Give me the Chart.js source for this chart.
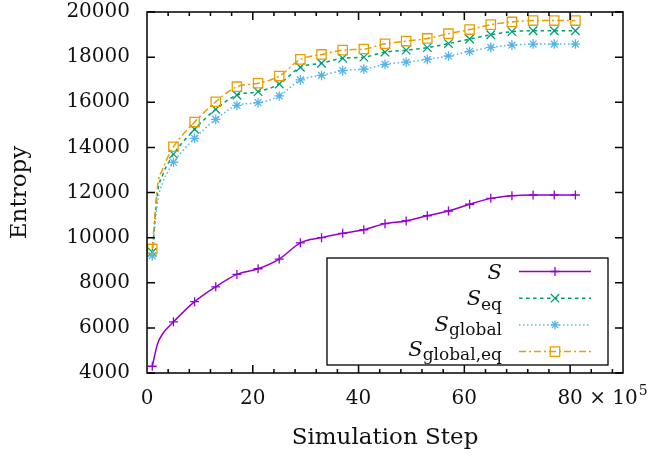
<!DOCTYPE html>
<html>
<head>
<meta charset="utf-8">
<script src="https://cdn.jsdelivr.net/npm/chart.js@4.4.0/dist/chart.umd.min.js"></script>
<style>
  html, body { margin: 0; padding: 0; background: #fff; }
  #wrap { width: 657px; height: 457px; }
</style>
</head>
<body>
<div id="wrap"><canvas id="entropyChart" width="657" height="457"></canvas></div>
<script>
// simulation step (x 10^5); markers only every 4th step starting at 1
const steps = [1, 2, 3, 4, 5, 9, 13, 17, 21, 25, 29, 33, 37, 41, 45, 49, 53, 57, 61, 65, 69, 73, 77, 81]

const sValues = [4300, 5300, 5750, 6030, 6270, 7160, 7820, 8370, 8620, 9050, 9770, 10000,
  10190, 10350, 10620, 10740, 10970, 11180, 11480, 11740, 11860, 11890, 11890, 11890]
const sEqValues = [9350, 12000, 12800, 13300, 13700, 14800, 15690, 16320, 16470, 16810, 17550, 17730,
  17950, 18000, 18220, 18310, 18420, 18600, 18800, 18990, 19130, 19170, 19170, 19170]
const sGlobalValues = [9200, 11600, 12450, 12950, 13340, 14400, 15240, 15860, 15980, 16280, 16990, 17190,
  17400, 17470, 17680, 17780, 17900, 18050, 18250, 18430, 18530, 18580, 18580, 18580]
const sGlobalEqValues = [9500, 12300, 13050, 13600, 14030, 15120, 16020, 16690, 16840, 17160, 17900, 18120,
  18310, 18360, 18590, 18710, 18830, 19040, 19220, 19440, 19560, 19620, 19620, 19620]

const xTickLabels = ['0', '20', '40', '60', '80']
const yTicks = [4000, 6000, 8000, 10000, 12000, 14000, 16000, 18000, 20000]

const FONT = '"DejaVu Serif", serif'
const TEXT = '#111'
const X_PAD = 14

function toPoints(vals) {
  return steps.map((s, i) => ({ x: s, y: vals[i] }))
}

const isMarker = (x) => (x - 1) % 4 === 0

// legend/series description (style only)
const series = [
  { sub: '',          data: sValues,         color: '#9400d3', dash: [],           marker: 'plus',   lift: 7.5 },
  { sub: 'eq',        data: sEqValues,       color: '#009e73', dash: [3.5, 3.5],   marker: 'x',      lift: 7 },
  { sub: 'global',    data: sGlobalValues,   color: '#56b4e9', dash: [1.5, 2.5],   marker: 'star',   lift: 6 },
  { sub: 'global,eq', data: sGlobalEqValues, color: '#e69f00', dash: [7, 3, 2, 3], marker: 'square', lift: 4 }
]

const chartStyle = { plus: 'cross', x: 'crossRot', star: 'star', square: 'rect' }
const chartRadius = { plus: 4.5, x: 6, star: 4.8, square: 6.6 }

function drawMarker(ctx, kind, x, y, color) {
  ctx.save()
  ctx.strokeStyle = color
  ctx.lineWidth = 1.3
  ctx.setLineDash([])
  ctx.beginPath()
  const r = 4.5
  if (kind === 'plus' || kind === 'star') {
    ctx.moveTo(x - r, y); ctx.lineTo(x + r, y)
    ctx.moveTo(x, y - r); ctx.lineTo(x, y + r)
  }
  if (kind === 'x' || kind === 'star') {
    const d = kind === 'x' ? 4.2 : 3.2
    ctx.moveTo(x - d, y - d); ctx.lineTo(x + d, y + d)
    ctx.moveTo(x - d, y + d); ctx.lineTo(x + d, y - d)
  }
  if (kind === 'square') {
    ctx.rect(x - 4.7, y - 4.7, 9.4, 9.4)
  }
  ctx.stroke()
  ctx.restore()
}

const framePlugin = {
  id: 'gnuplotFrame',
  afterDatasetsDraw(chart) {
    const ctx = chart.ctx
    const { left, right, top, bottom } = chart.chartArea
    const xs = chart.scales.x
    const ys = chart.scales.y

    ctx.save()
    ctx.strokeStyle = '#000'
    ctx.lineWidth = 1.5
    ctx.setLineDash([])

    // ticks, mirrored on all four sides
    ctx.beginPath()
    for (let v = 4; v < 90; v += 4) {
      const px = xs.getPixelForValue(v)
      const len = v % 20 === 0 ? 8 : 4
      ctx.moveTo(px, bottom); ctx.lineTo(px, bottom - len)
      ctx.moveTo(px, top); ctx.lineTo(px, top + len)
    }
    yTicks.forEach(v => {
      const py = ys.getPixelForValue(v)
      ctx.moveTo(left, py); ctx.lineTo(left + 8, py)
      ctx.moveTo(right, py); ctx.lineTo(right - 8, py)
    })
    ctx.stroke()

    // border
    ctx.strokeRect(left, top, right - left, bottom - top)

    // "x 10^5" after the last tick label
    ctx.fillStyle = TEXT
    ctx.font = '20px ' + FONT
    ctx.textBaseline = 'middle'
    ctx.textAlign = 'left'
    const lx = xs.getPixelForValue(80) + ctx.measureText('80').width / 2
    const mid = bottom + X_PAD + 12
    ctx.fillText(' \u00d7 10', lx, mid)
    const w = ctx.measureText(' \u00d7 10').width
    ctx.font = '14px ' + FONT
    ctx.fillText('5', lx + w + 1, mid - 8)

    // legend box
    const bx = right - 296, by = bottom - 115, bw = 281, bh = 107
    ctx.fillStyle = '#fff'
    ctx.fillRect(bx, by, bw, bh)
    ctx.lineWidth = 1.3
    ctx.strokeRect(bx, by, bw, bh)

    ctx.textBaseline = 'alphabetic'
    series.forEach((s, i) => {
      const ly = by + 13.5 + i * 26.7
      // sample line
      ctx.save()
      ctx.strokeStyle = s.color
      ctx.lineWidth = 1.5
      ctx.setLineDash(s.dash)
      ctx.beginPath()
      ctx.moveTo(bx + 192, ly)
      ctx.lineTo(bx + 264, ly)
      ctx.stroke()
      ctx.restore()
      drawMarker(ctx, s.marker, bx + 228, ly, s.color)

      // label: italic S with roman subscript, right aligned
      const rx = bx + 175
      ctx.fillStyle = TEXT
      ctx.textAlign = 'left'
      ctx.font = '17px ' + FONT
      const wSub = s.sub ? ctx.measureText(s.sub).width : 0
      ctx.font = 'italic 21px ' + FONT
      const wS = ctx.measureText('S').width
      ctx.fillText('S', rx - wSub - wS, ly + s.lift)
      if (s.sub) {
        ctx.font = '17px ' + FONT
        ctx.fillText(s.sub, rx - wSub, ly + s.lift + 4.5)
      }
    })
    ctx.restore()
  }
}

Chart.defaults.font.family = FONT
Chart.defaults.color = TEXT

const ctx = document.getElementById('entropyChart').getContext('2d')
const entropyChart = new Chart(ctx, {
  type: 'line',
  data: {
    datasets: series.map((s, i) => ({
      label: 'S' + (s.sub ? '_' + s.sub : ''),
      data: toPoints(s.data),
      borderColor: s.color,
      backgroundColor: 'rgba(0,0,0,0)',
      borderWidth: 1.5,
      borderDash: s.dash,
      pointStyle: chartStyle[s.marker],
      pointRadius: (c) => isMarker(c.raw.x) ? chartRadius[s.marker] : 0,
      pointBorderWidth: 1.3,
      pointBorderColor: s.color,
      pointBackgroundColor: 'rgba(0,0,0,0)',
      cubicInterpolationMode: 'monotone',
      fill: false,
      order: series.length - i
    }))
  },
  options: {
    responsive: false,
    animation: false,
    devicePixelRatio: 1,
    layout: { padding: { top: 12, right: 34, left: 0, bottom: 0 } },
    plugins: {
      legend: { display: false },
      tooltip: { enabled: false }
    },
    scales: {
      x: {
        type: 'linear',
        min: 0,
        max: 90,
        grid: { display: false, drawTicks: false },
        border: { display: false },
        ticks: {
          stepSize: 20,
          padding: X_PAD,
          font: { size: 20 },
          maxRotation: 0,
          callback: (v) => xTickLabels.includes(String(v)) ? String(v) : ''
        },
        title: {
          display: true,
          text: 'Simulation Step',
          font: { size: 23 },
          padding: { top: 0, bottom: 5 }
        },
        afterFit: (scale) => {
          scale.height = 84
          scale.paddingLeft = 0
          scale.paddingRight = 0
        }
      },
      y: {
        type: 'linear',
        min: 4000,
        max: 20000,
        grid: { display: false, drawTicks: false },
        border: { display: false },
        ticks: {
          stepSize: 2000,
          padding: 17,
          font: { size: 20 },
          callback: (v) => String(v)
        },
        title: {
          display: true,
          text: 'Entropy',
          font: { size: 23 },
          padding: { top: 6, bottom: 0 }
        },
        afterFit: (scale) => {
          scale.width = 147
          scale.paddingTop = 0
          scale.paddingBottom = 0
        }
      }
    }
  },
  plugins: [framePlugin]
})
</script>
</body>
</html>
